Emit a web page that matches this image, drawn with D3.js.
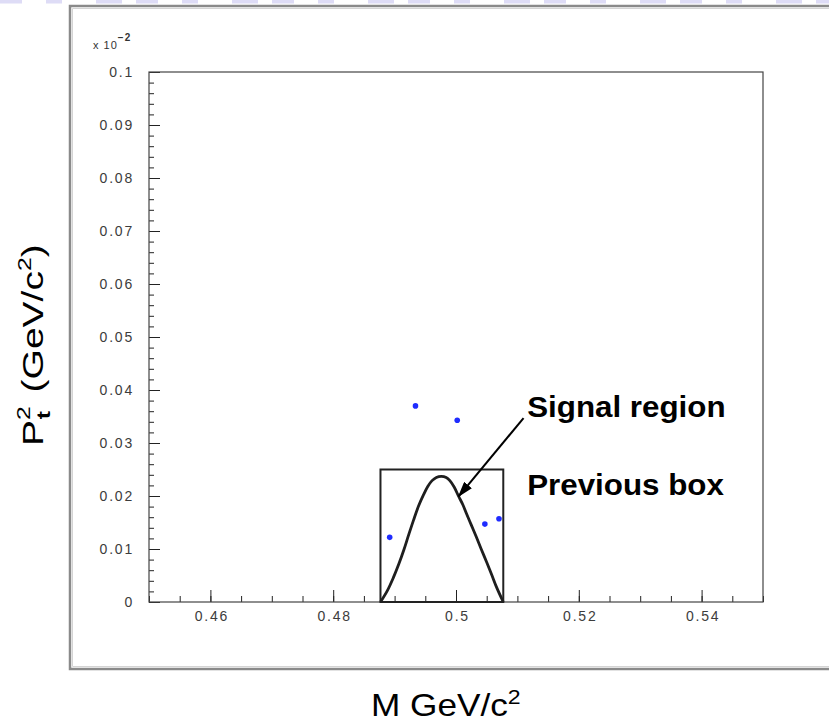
<!DOCTYPE html>
<html lang="en">
<head>
  <meta charset="UTF-8" />
  <title>Pt2 vs M signal region</title>
  <script src="https://cdn.jsdelivr.net/npm/d3@7"></script>
  <style>
    html, body { margin: 0; padding: 0; background: #fff; overflow: hidden; }
    svg { display: block; }
    .tick text { font-family: "Liberation Sans", Arial, sans-serif; font-size: 14px; letter-spacing: 1.8px; fill: #3c3c3c; }
    .tick line { stroke: #222; }
  </style>
</head>
<body>
<script>
// Axis settings
const xMajor = [0.46, 0.48, 0.50, 0.52, 0.54];
const xMajorLabels = ["0.46", "0.48", "0.5", "0.52", "0.54"];
const yMajor = [0, 0.01, 0.02, 0.03, 0.04, 0.05, 0.06, 0.07, 0.08, 0.09, 0.1];
const yMajorLabels = ["0", "0.01", "0.02", "0.03", "0.04", "0.05", "0.06", "0.07", "0.08", "0.09", "0.1"];

// Candidate events (M, Pt^2)
const eventM   = [0.4934, 0.5002, 0.4892, 0.5047, 0.5070];
const eventPt2 = [0.0370, 0.0343, 0.0122, 0.0147, 0.0157];

// Signal region boundary curve
const curveM   = [0.4877, 0.4888, 0.4898, 0.4907, 0.4915, 0.4923, 0.4931, 0.4939, 0.4947, 0.4954, 0.4961, 0.4968, 0.4976,
                  0.4984, 0.4990, 0.4997, 0.5004, 0.5011, 0.5017, 0.5025, 0.5033, 0.5041, 0.5050, 0.5058, 0.5066, 0.5077];
const curvePt2 = [0.0000, 0.0021, 0.0046, 0.0072, 0.0098, 0.0127, 0.0155, 0.0181, 0.0202, 0.0218, 0.0229, 0.0235, 0.0237,
                  0.0235, 0.0229, 0.0217, 0.0200, 0.0184, 0.0167, 0.0145, 0.0123, 0.0100, 0.0075, 0.0052, 0.0028, 0.0000];

// Previous box [Mmin, Mmax] x [0, Pt2max]
const boxM = [0.4877, 0.5077];
const boxPt2 = [0, 0.025];

const width = 829, height = 722;
const font = "Liberation Sans, Arial, sans-serif";
const svg = d3.select("body").append("svg")
  .attr("width", width)
  .attr("height", height);

// faint slide banner on top
svg.append("line")
  .attr("x1", 0).attr("x2", width)
  .attr("y1", 1.5).attr("y2", 1.5)
  .attr("stroke", "#dedcf6")
  .attr("stroke-width", 4)
  .attr("stroke-dasharray", "22 24 16 34 26 14");

// outer canvas frame
svg.append("path")
  .attr("d", `M${width + 5},6 H70 V669 H${width + 5}`)
  .attr("fill", "none")
  .attr("stroke", "#8a8a8a")
  .attr("stroke-width", 2.5);
svg.append("path")
  .attr("d", `M${width + 5},8.5 H72.5 V666.5 H${width + 5}`)
  .attr("fill", "none")
  .attr("stroke", "#d4d4d4")
  .attr("stroke-width", 1);

const x = d3.scaleLinear().domain([0.45, 0.55]).range([149, 763]);
const y = d3.scaleLinear().domain([0, 0.1]).range([602, 72]);

// minor ticks
const xMinor = d3.range(0, 21).map(i => 0.45 + i * 0.005);
const yMinor = d3.range(0, 51).map(i => i * 0.002);

svg.append("g")
  .attr("transform", `translate(0,${y(0)})`)
  .call(d3.axisBottom(x).tickValues(xMinor).tickSize(-6).tickFormat(""))
  .call(g => g.select(".domain").remove());
svg.append("g")
  .attr("transform", `translate(${x(0.45)},0)`)
  .call(d3.axisLeft(y).tickValues(yMinor).tickSize(-5).tickFormat(""))
  .call(g => g.select(".domain").remove());

// major ticks with labels
svg.append("g")
  .attr("transform", `translate(0,${y(0)})`)
  .call(d3.axisBottom(x).tickValues(xMajor).tickSize(-12).tickPadding(9)
    .tickFormat((d, i) => xMajorLabels[i]))
  .call(g => g.select(".domain").remove())
  .call(g => g.selectAll(".tick text").attr("dx", "1px"));
svg.append("g")
  .attr("transform", `translate(${x(0.45)},0)`)
  .call(d3.axisLeft(y).tickValues(yMajor).tickSize(-11).tickPadding(15)
    .tickFormat((d, i) => yMajorLabels[i]))
  .call(g => g.select(".domain").remove());

// plot frame
svg.append("rect")
  .attr("x", x(0.45)).attr("y", y(0.1))
  .attr("width", x(0.55) - x(0.45))
  .attr("height", y(0) - y(0.1))
  .attr("fill", "none")
  .attr("stroke", "#444")
  .attr("stroke-width", 1.2);

// axis exponent
svg.append("text")
  .attr("x", 93).attr("y", 49)
  .attr("font-family", font)
  .attr("font-size", 11)
  .attr("letter-spacing", 1)
  .attr("fill", "#333")
  .text("x 10")
  .append("tspan")
  .attr("dy", -8)
  .attr("font-size", 10)
  .attr("font-weight", "bold")
  .text("−2");

// previous box
svg.append("rect")
  .attr("x", x(boxM[0])).attr("y", y(boxPt2[1]))
  .attr("width", x(boxM[1]) - x(boxM[0]))
  .attr("height", y(boxPt2[0]) - y(boxPt2[1]))
  .attr("fill", "none")
  .attr("stroke", "#222")
  .attr("stroke-width", 2);

// signal region curve
const line = d3.line()
  .x(d => x(d[0]))
  .y(d => y(d[1]))
  .curve(d3.curveCatmullRom.alpha(0.5));
svg.append("path")
  .datum(curveM.map((m, i) => [m, curvePt2[i]]))
  .attr("d", line)
  .attr("fill", "none")
  .attr("stroke", "#1e1e1e")
  .attr("stroke-width", 2.8);

// events
svg.selectAll("circle.evt")
  .data(eventM.map((m, i) => [m, eventPt2[i]]))
  .join("circle")
  .attr("class", "evt")
  .attr("cx", d => x(d[0]))
  .attr("cy", d => y(d[1]))
  .attr("r", 2.8)
  .attr("fill", "#1f2cff");

// annotations
const defs = svg.append("defs");
defs.append("marker")
  .attr("id", "arrowhead")
  .attr("viewBox", "0 0 16 10")
  .attr("refX", 15).attr("refY", 5)
  .attr("markerWidth", 16).attr("markerHeight", 10)
  .attr("markerUnits", "userSpaceOnUse")
  .attr("orient", "auto")
  .append("path")
  .attr("d", "M0,0 L16,5 L0,10 z")
  .attr("fill", "#000");

svg.append("line")
  .attr("x1", x(0.5110)).attr("y1", y(0.0347))
  .attr("x2", x(0.5004)).attr("y2", y(0.0199))
  .attr("stroke", "#000")
  .attr("stroke-width", 2)
  .attr("marker-end", "url(#arrowhead)");

const annot = [
  { text: "Signal region", m: 0.5116, v: 0.0349 },
  { text: "Previous box", m: 0.5116, v: 0.0202 }
];
svg.selectAll("text.annot")
  .data(annot)
  .join("text")
  .attr("class", "annot")
  .attr("transform", d => `translate(${x(d.m)},${y(d.v)}) scale(1.08,1)`)
  .attr("font-family", font)
  .attr("font-weight", "bold")
  .attr("font-size", 29)
  .attr("fill", "#000")
  .text(d => d.text);

// axis titles
const xt = svg.append("text")
  .attr("transform", "translate(371,716) scale(1.1,1)")
  .attr("font-family", font)
  .attr("font-size", 32)
  .attr("fill", "#000");
xt.append("tspan").text("M GeV/c");
xt.append("tspan").attr("dy", -12).attr("font-size", 21).text("2");

const yt = svg.append("text")
  .attr("transform", "translate(43,446) rotate(-90) scale(1.3,1)")
  .attr("font-family", font)
  .attr("font-size", 30)
  .attr("fill", "#000");
yt.append("tspan").text("P");
yt.append("tspan").attr("dy", -13).attr("font-size", 19).text("2");
yt.append("tspan").attr("dx", -10).attr("dy", 20).attr("font-size", 19).attr("font-weight", "bold").text("t");
yt.append("tspan").attr("dx", 6).attr("dy", -7).text(" (GeV/c");
yt.append("tspan").attr("dy", -12).attr("font-size", 19).text("2");
yt.append("tspan").attr("dy", 12).text(")");
</script>
</body>
</html>
